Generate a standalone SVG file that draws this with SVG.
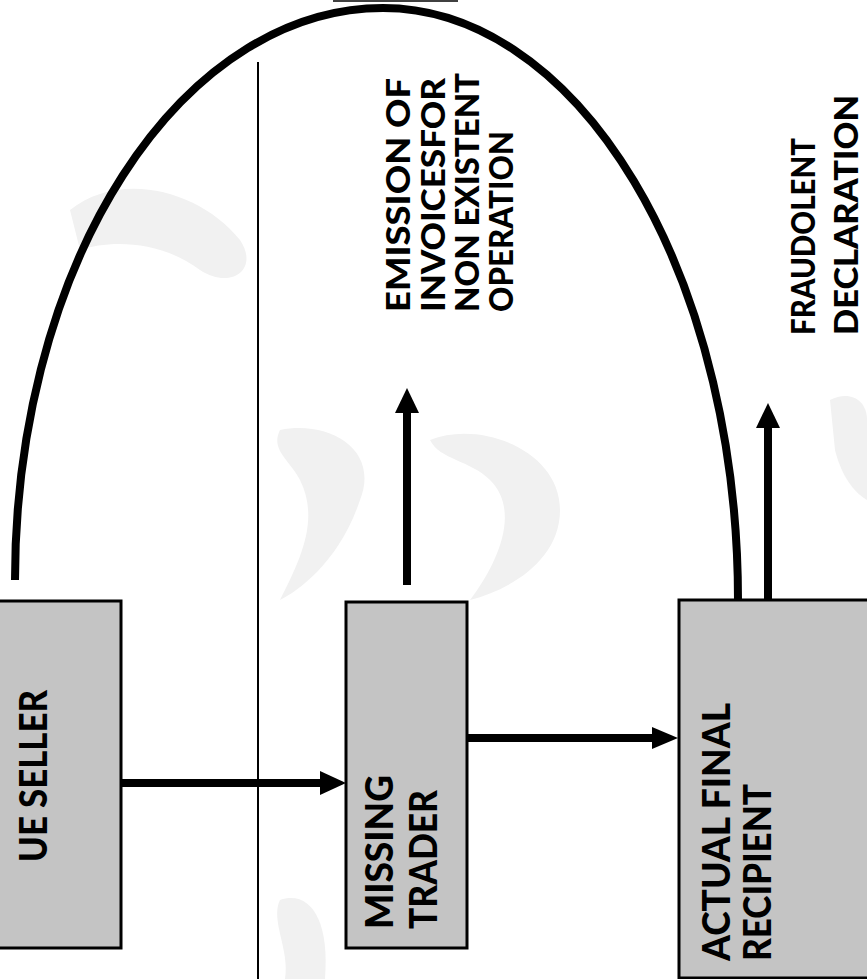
<svg xmlns="http://www.w3.org/2000/svg" width="867" height="979" viewBox="0 0 867 979">
  <style>
    .box { fill: #c4c4c4; stroke: #000; stroke-width: 3; }
    .bt { font-family: Lato, "Liberation Sans", sans-serif; font-weight: 900; font-size: 38px; fill: #000; }
    .lt { font-family: Lato, "Liberation Sans", sans-serif; font-weight: 900; font-size: 32px; fill: #000; }
    .shaft { stroke: #000; stroke-width: 8; fill: none; }
    .head { fill: #000; }
    .bg { fill: #f1f1f1; }
  </style>
  <rect width="867" height="979" fill="#fff"/>

  <g id="background">
    <path class="bg" d="M 70 210 C 120 170 200 190 240 240 C 260 270 230 290 200 270 C 160 240 110 240 80 250 Z"/>
    <path class="bg" d="M 280 430 C 330 420 380 450 360 500 C 340 560 300 590 280 600 C 300 560 320 520 300 480 C 290 460 270 450 280 430 Z"/>
    <path class="bg" d="M 430 440 C 480 420 560 450 560 510 C 560 560 510 590 470 600 C 500 560 520 510 490 480 C 470 460 440 460 430 440 Z"/>
    <path class="bg" d="M 830 400 C 850 390 867 400 867 420 L 867 500 C 850 490 840 470 835 450 Z"/>
    <path class="bg" d="M 280 900 C 310 890 330 920 325 979 L 285 979 C 290 950 270 920 280 900 Z"/>
  </g>

  <g id="connectors">
    <path id="arc" d="M 15 580 A 368 572 0 0 1 383 8 A 355 592 0 0 1 738 600" fill="none" stroke="#000" stroke-width="8"/>
    <line x1="333" y1="1" x2="458" y2="1" stroke="#000" stroke-width="1.5"/>
    <line id="divider" x1="258" y1="62" x2="258" y2="979" stroke="#000" stroke-width="2"/>
    <g id="seller-to-trader">
      <line class="shaft" x1="121" y1="783" x2="322" y2="783"/>
      <polygon class="head" points="320,771 346,783 320,795"/>
    </g>
    <g id="trader-to-recipient">
      <line class="shaft" x1="467" y1="738" x2="654" y2="738"/>
      <polygon class="head" points="652,727 678,738 652,749"/>
    </g>
    <g id="trader-to-emission">
      <line class="shaft" x1="407" y1="585" x2="407" y2="410"/>
      <polygon class="head" points="395,413 407,388 419,413"/>
    </g>
    <g id="recipient-to-declaration">
      <line class="shaft" x1="768" y1="600" x2="768" y2="425"/>
      <polygon class="head" points="756,428 768,403 780,428"/>
    </g>
  </g>

  <g id="ue-seller">
    <rect class="box" x="-2" y="601" width="123" height="347"/>
    <text class="bt" transform="translate(47,862) rotate(-90)" textLength="172" lengthAdjust="spacingAndGlyphs">UE SELLER</text>
  </g>

  <g id="missing-trader">
    <rect class="box" x="346" y="602" width="121" height="346"/>
    <text class="bt" transform="translate(393,929) rotate(-90)" textLength="154" lengthAdjust="spacingAndGlyphs">MISSING</text>
    <text class="bt" transform="translate(437,929) rotate(-90)" textLength="139" lengthAdjust="spacingAndGlyphs">TRADER</text>
  </g>

  <g id="actual-final-recipient">
    <rect class="box" x="679" y="600" width="200" height="378"/>
    <text class="bt" transform="translate(730,961) rotate(-90)" textLength="258" lengthAdjust="spacingAndGlyphs">ACTUAL FINAL</text>
    <text class="bt" transform="translate(771,961) rotate(-90)" textLength="177" lengthAdjust="spacingAndGlyphs">RECIPIENT</text>
  </g>

  <g id="emission-label">
    <text class="lt" transform="translate(410,312) rotate(-90)" textLength="234" lengthAdjust="spacingAndGlyphs">EMISSION OF</text>
    <text class="lt" transform="translate(445,312) rotate(-90)" textLength="234" lengthAdjust="spacingAndGlyphs">INVOICESFOR</text>
    <text class="lt" transform="translate(479,312) rotate(-90)" textLength="239" lengthAdjust="spacingAndGlyphs">NON EXISTENT</text>
    <text class="lt" transform="translate(513,312) rotate(-90)" textLength="181" lengthAdjust="spacingAndGlyphs">OPERATION</text>
  </g>

  <g id="fraudolent-label">
    <text class="lt" transform="translate(815,335) rotate(-90)" textLength="197" lengthAdjust="spacingAndGlyphs">FRAUDOLENT</text>
    <text class="lt" transform="translate(858,335) rotate(-90)" textLength="240" lengthAdjust="spacingAndGlyphs">DECLARATION</text>
  </g>
</svg>
